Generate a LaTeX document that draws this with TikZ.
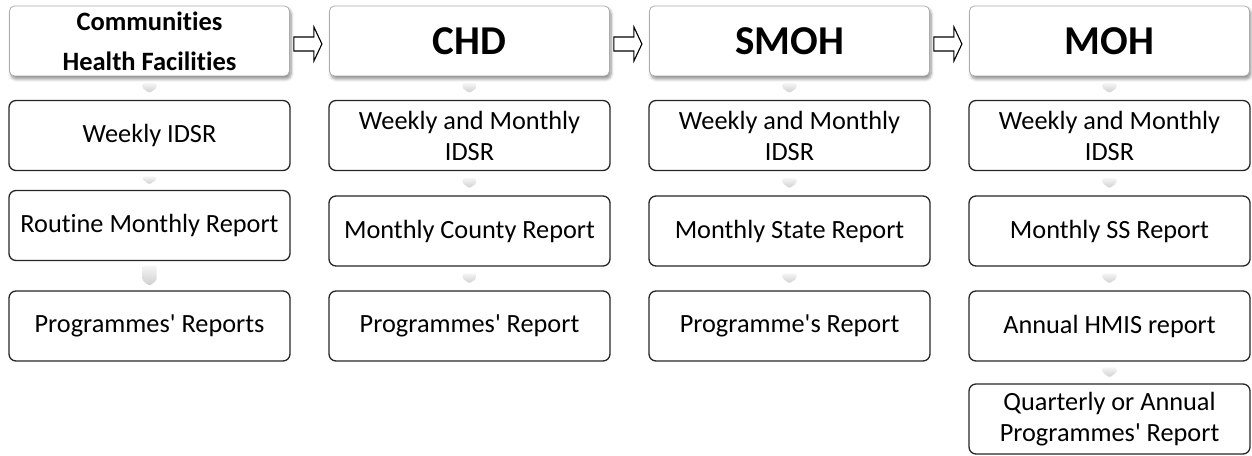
\documentclass[tikz,border=0pt]{standalone}
\usepackage{fontspec}
\setmainfont{Carlito}[Ligatures={TeXOff,CommonOff}]
\usetikzlibrary{calc,shadows.blur}

\tikzset{
  headbox/.style={draw=gray!65, line width=0.8pt, rounded corners=5pt, fill=white,
    minimum width=280pt, minimum height=70pt, inner sep=0pt, align=center,
    font=\bfseries,
    blur shadow={shadow xshift=1.5pt, shadow yshift=-3pt, shadow blur radius=3pt,
      shadow opacity=45, shadow blur steps=6}},
  repbox/.style={draw=black!85, line width=1.3pt, rounded corners=7pt, fill=white,
    minimum width=281pt, minimum height=70pt, inner sep=0pt,
    align=center, font=\fontsize{26.3}{31}\selectfont},
  blockarrow/.style={draw=black, line width=1.1pt, fill=white, line join=miter},
  tabfill/.style={top color=gray!8, bottom color=gray!38, draw=none, rounded corners=1.5pt},
}

% small downward tab between two stacked boxes; #1 = tab height
\newcommand\dtab[3][10]{%
  \path[tabfill] ($(#2.south)!0.5!(#3.north)$) ++(-7,#1/2) -- ++(14,0) -- ++(0,-#1+5)
    -- ++(-7,-5) -- ++(-7,5) -- cycle;}

% outlined block arrow from one header to the next
\newcommand\harrow[2]{%
  \draw[blockarrow] ($(#1.east)+(4,-3)$) ++(0,7) -- ++(20,0) -- ++(0,10) -- ++(8,-17)
    -- ++(-8,-17) -- ++(0,10) -- ++(-20,0) -- cycle;}

\begin{document}
\begin{tikzpicture}[x=1pt,y=1pt]
\useasboundingbox (0,0) rectangle (1252,455);

% headers
\node[headbox, font=\bfseries\fontsize{26.5}{40}\selectfont] (h1) at (149.5,414) {Communities\\Health Facilities};
\node[headbox, font=\bfseries\fontsize{41}{46}\selectfont] (h2) at (469.5,414) {CHD};
\node[headbox, font=\bfseries\fontsize{41}{46}\selectfont] (h3) at (789.5,414) {SMOH};
\node[headbox, font=\bfseries\fontsize{41}{46}\selectfont] (h4) at (1109.5,414) {MOH};

\harrow{h1}{h2}
\harrow{h2}{h3}
\harrow{h3}{h4}

% Communities / Health Facilities
\node[repbox] (a1) at (149.5,319.5) {Weekly IDSR};
\node[repbox] (a2) at (149.5,229.5) {Routine Monthly Report};
\node[repbox] (a3) at (149.5,129) {Programmes' Reports};

% CHD
\node[repbox] (b1) at (469.5,319.5) {Weekly and Monthly\\IDSR};
\node[repbox] (b2) at (469.5,224) {Monthly County Report};
\node[repbox] (b3) at (469.5,129) {Programmes' Report};

% SMOH
\node[repbox] (c1) at (789.5,319.5) {Weekly and Monthly\\IDSR};
\node[repbox] (c2) at (789.5,224) {Monthly State Report};
\node[repbox] (c3) at (789.5,129) {Programme's Report};

% MOH
\node[repbox] (d1) at (1109.5,319.5) {Weekly and Monthly\\IDSR};
\node[repbox] (d2) at (1109.5,224) {Monthly SS Report};
\node[repbox] (d3) at (1109.5,129) {Annual HMIS report};
\node[repbox] (d4) at (1109.5,36) {Quarterly or Annual\\Programmes' Report};

% downward tabs
\dtab{h1}{a1}\dtab[8]{a1}{a2}\dtab[20]{a2}{a3}
\dtab{h2}{b1}\dtab{b1}{b2}\dtab{b2}{b3}
\dtab{h3}{c1}\dtab{c1}{c2}\dtab{c2}{c3}
\dtab{h4}{d1}\dtab{d1}{d2}\dtab{d2}{d3}\dtab{d3}{d4}
\end{tikzpicture}
\end{document}
